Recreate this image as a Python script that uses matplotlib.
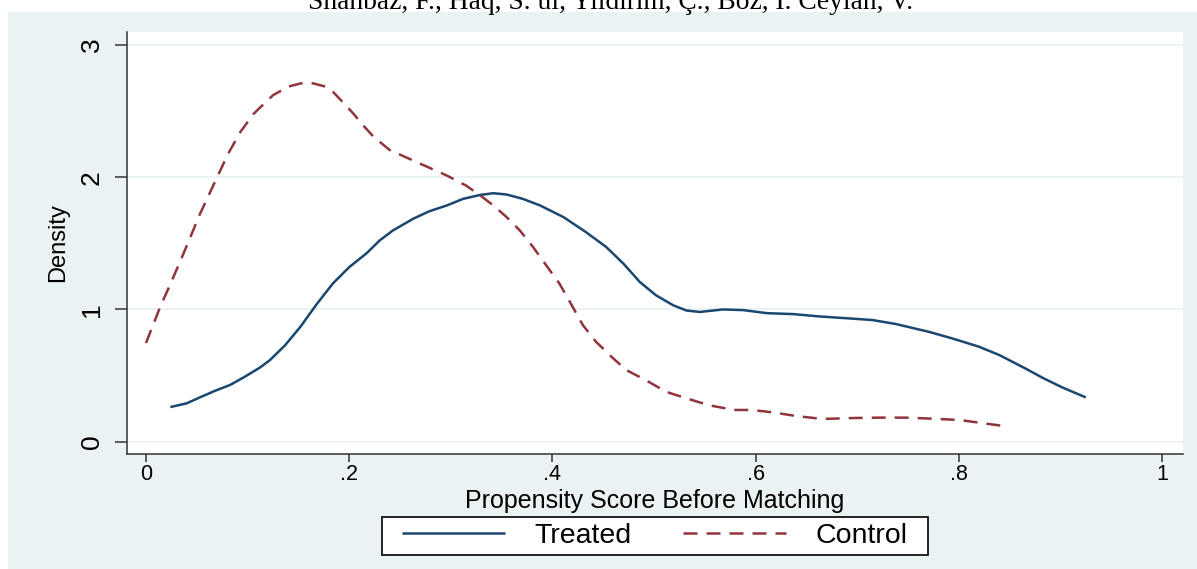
"""
Kernel density of propensity scores before matching (Stata-style look).
"""
import matplotlib
matplotlib.use("Agg")
import matplotlib.pyplot as plt
from matplotlib.patches import Rectangle

# values
treated_x = [0.024, 0.040, 0.053, 0.068, 0.083, 0.097, 0.112, 0.122, 0.137,
             0.152, 0.168, 0.184, 0.200, 0.217, 0.230, 0.243, 0.263, 0.279,
             0.296, 0.312, 0.329, 0.342, 0.355, 0.371, 0.388, 0.411, 0.433,
             0.453, 0.470, 0.486, 0.502, 0.519, 0.532, 0.545, 0.568, 0.588,
             0.611, 0.637, 0.663, 0.683, 0.715, 0.738, 0.771, 0.794, 0.820,
             0.840, 0.866, 0.883, 0.902, 0.925]
treated_y = [0.262, 0.290, 0.335, 0.385, 0.430, 0.490, 0.560, 0.617, 0.730,
             0.869, 1.040, 1.197, 1.320, 1.424, 1.522, 1.597, 1.686, 1.743,
             1.786, 1.836, 1.866, 1.879, 1.869, 1.836, 1.786, 1.698, 1.585,
             1.472, 1.346, 1.208, 1.107, 1.031, 0.992, 0.981, 1.000, 0.995,
             0.972, 0.965, 0.947, 0.937, 0.920, 0.890, 0.830, 0.780, 0.718,
             0.655, 0.552, 0.481, 0.410, 0.335]

control_x = [0.000, 0.014, 0.025, 0.037, 0.053, 0.070, 0.081, 0.093, 0.106,
             0.125, 0.140, 0.152, 0.163, 0.175, 0.184, 0.194, 0.204, 0.214,
             0.224, 0.240, 0.263, 0.296, 0.315, 0.329, 0.342, 0.355, 0.368,
             0.381, 0.394, 0.407, 0.420, 0.430, 0.443, 0.460, 0.473, 0.492,
             0.512, 0.532, 0.545, 0.558, 0.579, 0.596, 0.617, 0.640, 0.666,
             0.696, 0.722, 0.748, 0.774, 0.801, 0.820, 0.842]
control_y = [0.746, 1.020, 1.210, 1.424, 1.720, 2.000, 2.180, 2.343, 2.480,
             2.620, 2.685, 2.709, 2.712, 2.689, 2.646, 2.565, 2.482, 2.390,
             2.305, 2.205, 2.126, 2.013, 1.937, 1.862, 1.786, 1.698, 1.597,
             1.472, 1.333, 1.195, 1.019, 0.881, 0.755, 0.629, 0.541, 0.465,
             0.377, 0.328, 0.297, 0.270, 0.240, 0.240, 0.222, 0.194, 0.172,
             0.179, 0.182, 0.182, 0.174, 0.164, 0.144, 0.121]

series_names = ["Treated", "Control"]
x_ticks = [0, 0.2, 0.4, 0.6, 0.8, 1.0]
x_tick_labels = ["0", ".2", ".4", ".6", ".8", "1"]
y_ticks = [0, 1, 2, 3]
y_tick_labels = ["0", "1", "2", "3"]
title_text = "Shahbaz, F., Haq, S. ul, Yildirim, Ç., Boz, I. Ceylan, V."

BG = "#EAF2F3"
NAVY = "#1A476F"
MAROON = "#90353B"
AXIS = "#333333"
W, H = 1197, 569

plt.rcParams["font.family"] = ["Liberation Sans", "DejaVu Sans"]

fig = plt.figure(figsize=(W / 100, H / 100), dpi=100, facecolor="white")
fig.patches.append(Rectangle((8 / W, 0), 1 - 8 / W, (H - 12) / H,
                             transform=fig.transFigure, facecolor=BG,
                             edgecolor="none", zorder=-10))
# running header, cut at the top edge as in the source page
fig.text(611 / W, 1 - 9 / H, title_text, family=["Liberation Serif", "DejaVu Serif"],
         fontsize=19.8, ha="center", va="baseline")

ax = fig.add_axes([127 / W, 1 - 454 / H, (1183 - 127) / W, (454 - 32) / H])
ax.set_facecolor("white")

lw = 1.8
treated_line, = ax.plot(treated_x, treated_y, color=NAVY, lw=lw,
                        label=series_names[0], solid_capstyle="butt",
                        solid_joinstyle="round")
control_line, = ax.plot(control_x, control_y, color=MAROON, lw=lw,
                        linestyle=(0, (5.6, 3.6)), label=series_names[1],
                        dash_capstyle="butt", dash_joinstyle="round")

ax.set_xlim(-0.0187, 1.0207)
ax.set_ylim(-0.093, 3.098)
ax.set_xticks(x_ticks, x_tick_labels)
ax.set_yticks(y_ticks, y_tick_labels)
ax.yaxis.grid(True, color=BG, lw=1.3)
ax.set_axisbelow(True)

for side in ("top", "right"):
    ax.spines[side].set_visible(False)
for side in ("left", "bottom"):
    ax.spines[side].set_color(AXIS)
    ax.spines[side].set_linewidth(1.1)

ax.tick_params(axis="x", length=5.5, width=1.1, color=AXIS, pad=2, labelsize=15.5)
ax.tick_params(axis="y", length=8.6, width=1.1, color=AXIS, pad=8, labelsize=19,
               labelrotation=90)
plt.setp(ax.get_yticklabels(), va="center")

ax.set_xlabel("Propensity Score Before Matching", fontsize=18, va="center")
ax.xaxis.set_label_coords(0.5, -(501 - 454) / 422)
ax.set_ylabel("Density", fontsize=17, va="center")
ax.yaxis.set_label_coords(-(127 - 58) / 1056, 0.5)

# legend box drawn separately so it can be wider than it is tall
fig.patches.append(Rectangle((382 / W, (H - 555) / H), (928 - 382) / W, 38 / H,
                             transform=fig.transFigure, facecolor="white",
                             edgecolor="black", lw=1.2, zorder=4))
leg = fig.legend([treated_line, control_line], series_names, loc="center",
                 bbox_to_anchor=(655 / W, 33 / H), ncol=2, fontsize=20.5,
                 frameon=False, handlelength=3.6, handletextpad=1.05,
                 columnspacing=1.8, borderpad=0, borderaxespad=0)
leg.set_zorder(5)

fig.savefig("out.png", dpi=100)
plt.close(fig)
